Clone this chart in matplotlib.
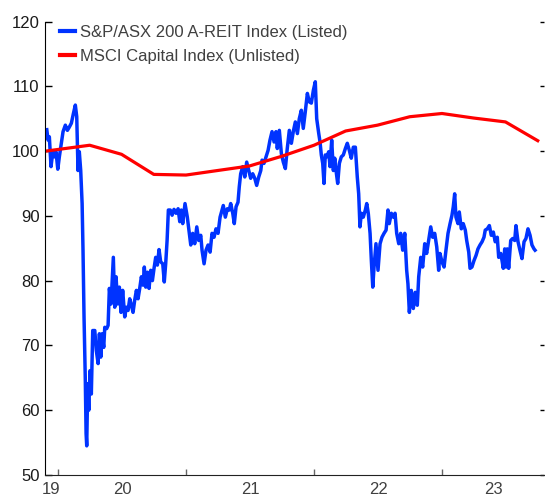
"""
A-REIT listed index vs MSCI unlisted capital index, rebased to 100.
"""

import numpy as np
import matplotlib
matplotlib.use("Agg")
import matplotlib.pyplot as plt

plt.rcParams['font.family'] = ['Liberation Sans', 'DejaVu Sans']

# time in decimal years
listed_t = [
    2019.912, 2019.922, 2019.932, 2019.945, 2019.959, 2019.974, 2019.984, 2019.998,
    2020.010, 2020.026, 2020.039, 2020.057, 2020.073, 2020.088, 2020.104, 2020.120,
    2020.135, 2020.146, 2020.156, 2020.166, 2020.177, 2020.188, 2020.195, 2020.203,
    2020.213, 2020.219, 2020.224, 2020.232, 2020.240, 2020.250, 2020.260, 2020.271,
    2020.287, 2020.299, 2020.313, 2020.323, 2020.334, 2020.344, 2020.357, 2020.365,
    2020.380, 2020.391, 2020.401, 2020.414, 2020.424, 2020.432, 2020.443, 2020.453,
    2020.466, 2020.479, 2020.492, 2020.505, 2020.521, 2020.534, 2020.547, 2020.560,
    2020.573, 2020.586, 2020.599, 2020.612, 2020.625, 2020.638, 2020.651, 2020.664,
    2020.674, 2020.685, 2020.698, 2020.711, 2020.724, 2020.737, 2020.750, 2020.763,
    2020.776, 2020.789, 2020.802, 2020.818, 2020.830, 2020.841, 2020.852, 2020.862,
    2020.877, 2020.891, 2020.906, 2020.922, 2020.938, 2020.951, 2020.963,
    2020.974, 2020.992, 2021.010, 2021.026, 2021.037, 2021.052, 2021.068, 2021.084,
    2021.099, 2021.115, 2021.125, 2021.141, 2021.156, 2021.172, 2021.188, 2021.203,
    2021.219, 2021.234, 2021.250, 2021.266, 2021.281, 2021.291, 2021.307, 2021.323,
    2021.338, 2021.349, 2021.365, 2021.377, 2021.391, 2021.406, 2021.416, 2021.427,
    2021.443, 2021.459, 2021.474, 2021.490, 2021.505, 2021.521, 2021.537, 2021.552,
    2021.568, 2021.584, 2021.594, 2021.609, 2021.625, 2021.641, 2021.656, 2021.672,
    2021.688, 2021.703, 2021.713, 2021.729, 2021.745, 2021.760, 2021.776, 2021.791,
    2021.807, 2021.823, 2021.838, 2021.854, 2021.870, 2021.885,
    2021.901, 2021.916, 2021.932, 2021.948, 2021.963, 2021.979, 2021.995, 2022.010,
    2022.021, 2022.037, 2022.047, 2022.057, 2022.068, 2022.078, 2022.088, 2022.099,
    2022.115, 2022.125, 2022.138, 2022.151, 2022.162, 2022.172, 2022.185, 2022.198,
    2022.213, 2022.229, 2022.245, 2022.260, 2022.276, 2022.291, 2022.307, 2022.323,
    2022.338, 2022.349, 2022.359, 2022.370, 2022.385, 2022.401, 2022.412, 2022.424,
    2022.438, 2022.448, 2022.459, 2022.469, 2022.484, 2022.500, 2022.516, 2022.531,
    2022.547, 2022.563, 2022.578, 2022.588, 2022.604, 2022.620, 2022.633, 2022.646,
    2022.662, 2022.677, 2022.693, 2022.709, 2022.724, 2022.734, 2022.745, 2022.760,
    2022.776, 2022.791, 2022.807, 2022.818, 2022.834, 2022.849, 2022.865, 2022.880,
    2022.896, 2022.912, 2022.927, 2022.943, 2022.959, 2022.974,
    2022.984, 2023.000, 2023.016, 2023.031, 2023.047, 2023.063, 2023.078, 2023.088,
    2023.099, 2023.109, 2023.125, 2023.135, 2023.151, 2023.166, 2023.182, 2023.193,
    2023.209, 2023.219, 2023.234, 2023.250, 2023.266, 2023.281, 2023.297, 2023.313,
    2023.328, 2023.338, 2023.354, 2023.370, 2023.385, 2023.401, 2023.416, 2023.432,
    2023.443, 2023.459, 2023.469, 2023.479, 2023.490, 2023.500, 2023.510, 2023.521,
    2023.537, 2023.552, 2023.568, 2023.578, 2023.594, 2023.609, 2023.625, 2023.641,
    2023.656, 2023.672, 2023.688, 2023.703, 2023.719, 2023.727,
]
listed = [
    103.3, 101.7, 102.2, 97.6, 99.9, 99.1, 99.9, 97.2,
    99.1, 101.2, 103.0, 104.0, 103.2, 103.7, 104.3, 105.8,
    107.1, 105.3, 97.0, 99.9, 97.0, 91.9, 84.7, 74.4,
    64.6, 56.4, 54.5, 64.1, 60.0, 66.1, 62.5, 72.3,
    72.3, 69.2, 67.2, 71.8, 68.2, 71.8, 69.7, 72.8,
    72.6, 73.1, 78.8, 76.4, 80.6, 83.6, 75.9, 80.6,
    76.4, 79.0, 75.1, 78.5, 74.4, 75.9, 75.4, 77.2,
    76.2, 75.1, 77.0, 78.5, 77.2, 78.8, 80.6, 79.3,
    82.1, 79.0, 81.3, 78.8, 81.6, 80.0, 81.9, 83.6,
    82.4, 84.8, 82.9, 82.6, 79.8, 82.6, 86.2, 90.9,
    90.9, 90.1, 91.0, 90.4, 91.1, 89.1, 90.9,
    88.8, 91.9, 89.8, 87.3, 85.5, 87.3, 85.7, 88.3,
    86.2, 87.0, 84.7, 82.6, 84.7, 85.5, 84.4, 87.3,
    86.7, 88.0, 87.3, 89.8, 90.9, 91.6, 89.8, 91.1,
    90.9, 91.9, 90.4, 88.8, 91.4, 92.1, 94.5, 96.5,
    97.6, 96.0, 98.3, 97.0, 95.8, 96.5, 95.8, 94.7,
    96.0, 97.0, 98.6, 98.1, 99.1, 100.1, 101.7, 103.0,
    101.4, 103.0, 100.4, 103.2, 99.6, 98.3, 97.3, 100.4,
    103.2, 101.2, 103.0, 104.5, 102.7, 105.0,
    106.3, 103.5, 106.1, 108.9, 107.6, 107.4, 109.4, 110.7,
    105.0, 102.7, 101.4, 99.4, 98.1, 95.0, 99.4, 99.1,
    99.9, 97.6, 101.7, 97.0, 98.9, 97.0, 95.0, 98.1,
    99.1, 99.4, 100.4, 101.2, 100.1, 98.9, 100.6, 100.6,
    96.0, 93.4, 88.3, 90.4, 89.8, 90.9, 91.9, 90.4,
    87.3, 83.1, 79.0, 82.1, 85.7, 81.6, 85.7, 86.7,
    87.3, 87.8, 90.9, 88.8, 90.4, 89.8, 90.4, 87.3,
    85.7, 87.3, 84.7, 87.3, 81.6, 79.5, 75.1, 78.5,
    75.7, 78.2, 76.2, 80.6, 83.6, 82.1, 85.7, 84.2,
    86.2, 88.3, 86.7, 87.3, 85.2, 81.6,
    84.2, 82.9, 82.1, 84.7, 87.3, 88.8, 90.1, 91.4,
    93.4, 89.8, 88.8, 90.6, 88.0, 88.8, 87.8, 86.2,
    84.4, 81.9, 82.1, 83.1, 83.9, 84.9, 85.5, 86.0,
    86.7, 87.8, 88.0, 88.5, 87.0, 87.5, 86.0, 86.7,
    83.6, 84.2, 83.1, 81.9, 84.9, 82.1, 84.9, 81.9,
    86.2, 86.5, 86.2, 88.5, 86.0, 84.7, 83.4, 86.0,
    86.5, 88.0, 87.0, 85.5, 84.9, 84.7,
]

unlisted_t = [2019.906, 2020.247, 2020.496, 2020.748, 2021.000, 2021.247, 2021.496,
              2021.748, 2022.000, 2022.247, 2022.496, 2022.748, 2023.000, 2023.247,
              2023.496, 2023.748]
unlisted = [100.0, 100.9, 99.5, 96.4, 96.3, 97.0, 97.7, 99.2, 100.9, 103.1, 104.0,
            105.3, 105.8, 105.1, 104.5, 101.6]

years = [2019, 2020, 2021, 2022, 2023]
year_labels = ['19', '20', '21', '22', '23']
x_start, x_end = 2019.898, 2023.797

fig = plt.figure(figsize=(5.45, 4.97), dpi=100)
ax = fig.add_axes([45 / 545, 22 / 497, 499 / 545, 453.5 / 497])

ax.plot(listed_t, listed, color='#0033ff', lw=2.5, label='S&P/ASX 200 A-REIT Index (Listed)')
ax.plot(unlisted_t, unlisted, color='#ff0000', lw=2.3, label='MSCI Capital Index (Unlisted)')

ax.set_xlim(x_start, x_end)
ax.set_ylim(50, 120)
ax.set_yticks(np.arange(50, 121, 10))

# year boundaries as ticks, year labels centred in the visible part of each year
ax.set_xticks(years[1:])
ax.set_xticklabels([])
centres = [(max(y, x_start) + min(y + 1, x_end)) / 2 for y in years]
ax.set_xticks(centres, minor=True)
ax.set_xticklabels(year_labels, minor=True)

ax.tick_params(axis='x', which='major', direction='in', length=4, width=1, color='#666666')
ax.tick_params(axis='x', which='minor', length=0, pad=5, labelsize=12, labelcolor='#404040')
ax.tick_params(axis='y', direction='in', length=5, width=1, color='black',
               labelsize=12, labelcolor='#1a1a1a', pad=4, right=True)
for t in ax.yaxis.get_major_ticks():
    t.tick2line.set_color('#aaaaaa')
    t.tick2line.set_markersize(3)

ax.spines['top'].set_visible(False)
ax.spines['right'].set_visible(False)
ax.spines['left'].set_color('black')
ax.spines['bottom'].set_color('#222222')

leg = ax.legend(loc='upper left', bbox_to_anchor=(0.0, 1.025), frameon=False, fontsize=12,
                handlelength=0.9, handletextpad=0.3, labelspacing=0.55, borderaxespad=0.5)
for txt in leg.get_texts():
    txt.set_color('#404040')
for line in leg.get_lines():
    line.set_linewidth(3)

plt.savefig("out.png", dpi=100)
